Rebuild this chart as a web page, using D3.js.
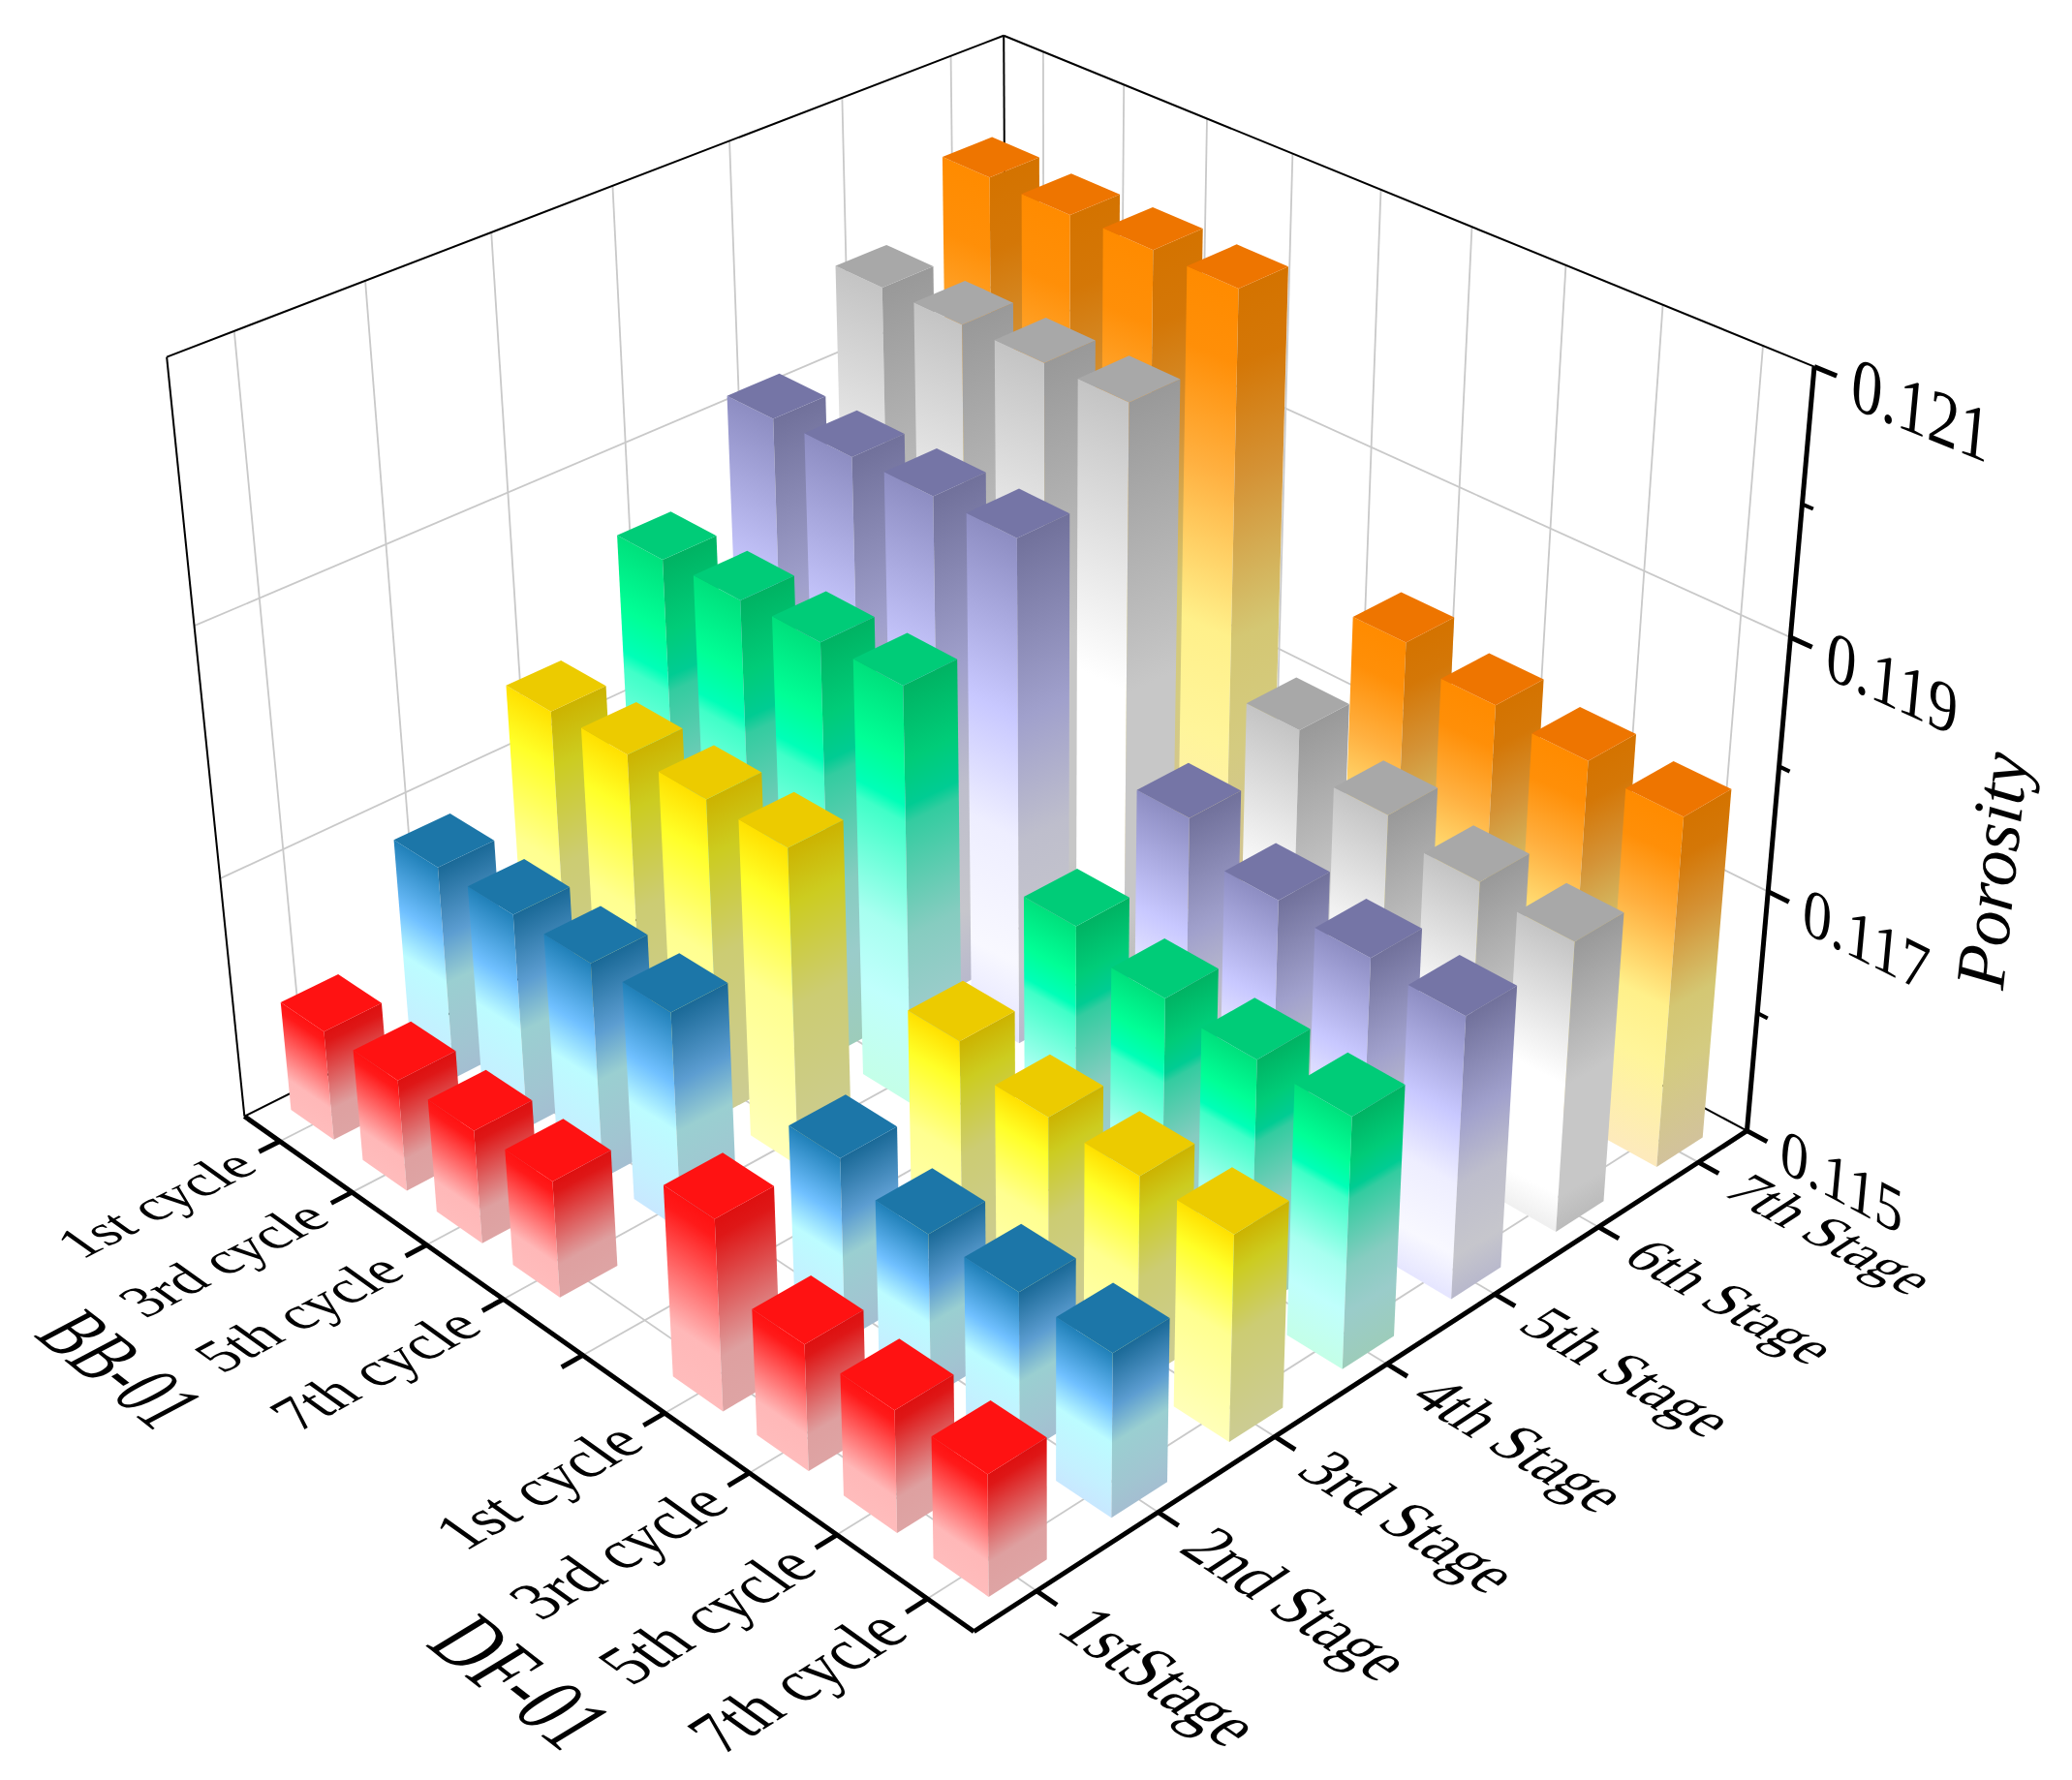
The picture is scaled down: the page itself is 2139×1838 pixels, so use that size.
<!DOCTYPE html>
<html><head><meta charset="utf-8">
<style>html,body{margin:0;padding:0;background:#fff}svg{display:block}text{font-family:"Liberation Serif","Times New Roman",serif;fill:#000}</style>
<script src="https://d3js.org/d3.v7.min.js"></script></head><body>
<div id="chart"></div>
<script>
const stageLabels=["1stStage","2nd Stage","3rd Stage","4th Stage","5th Stage","6th Stage","7th Stage"];
const cycleLabels=["1st cycle","3rd cycle","5th cycle","7th cycle","","1st cycle","3rd cycle","5th cycle","7th cycle"];
const zTicks=[0.115,0.116,0.117,0.118,0.119,0.120,0.121];
const zLabels=["0.115","","0.117","","0.119","","0.121"];
const stage1=[0.11592,0.11593,0.11594,0.11596,null,0.11655,0.11602,0.11598,0.11597];
const stage2=[0.11679,0.11679,0.11679,0.11680,null,0.11648,0.11632,0.11632,0.11631];
const stage3=[0.11761,0.11762,0.11763,0.11762,null,0.11688,0.11670,0.11667,0.11666];
const stage4=[0.11841,0.11842,0.11843,0.11844,null,0.11729,0.11712,0.11705,0.11703];
const stage5=[0.11914,0.11915,0.11916,0.11916,null,0.11767,0.11740,0.11734,0.11729];
const stage6=[0.11981,0.11981,0.11981,0.11981,null,0.11791,0.11760,0.11745,0.11737];
const stage7=[0.12033,0.12031,0.12032,0.12031,null,0.11817,0.11802,0.11794,0.11787];
const seriesValues=[stage1,stage2,stage3,stage4,stage5,stage6,stage7];
const capColors=["#ff1212","#1c76a8","#eccb00","#00cc78","#7575a6","#a8a8a8","#ee7500"];
const rightShade=[0.87,0.82,0.8,0.8,0.8,0.78,0.83];
const stopOffsets=[
 [0,0.1,0.35,0.72,1],
 [0,0.33,0.55,0.85,1],
 [0,0.18,0.5,1],
 [0,0.18,0.29,0.33,0.6,0.78,1],
 [0,0.36,0.6,0.85,1],
 [0,0.5,0.88,1],
 [0,0.12,0.3,0.55,0.72,1]];
const stopColors=[
 ["#ff1212","#ff1a1a","#ff5a5a","#ffb8b8","#ffbcbc"],
 ["#2080b8","#70c0ff","#bcfcff","#c4f0ff","#c8e8ff"],
 ["#ffe000","#ffff28","#ffff90","#ffffb8"],
 ["#00e07c","#00ff96","#00ffb8","#40ffc8","#a8fff0","#c0fffc","#c4ffe8"],
 ["#8d8dc2","#c8c8ff","#eeeeff","#f8f8ff","#e6e6ff"],
 ["#c4c4c4","#ffffff","#ffffff","#f0f0f0"],
 ["#ff8b00","#ff8f08","#ffb040","#fff08a","#fff59a","#fdeabc"]];

const W=2139,H=1838;
const k=2139/1568;
// projective camera: homogeneous columns for the three cube axes and the origin
const colX=[780.3,-252.6,0.14771],colY=[-523.1,-258.0,0.15625],colZ=[-80.8,-692,-0.10146],col0=[737,1235,1];
function project(X,Y,Z){const d=col0[2]+colX[2]*X+colY[2]*Y+colZ[2]*Z;
 return [k*(col0[0]+colX[0]*X+colY[0]*Y+colZ[0]*Z)/d,k*(col0[1]+colX[1]*X+colY[1]*Y+colZ[1]*Z)/d];}
const x=d3.scaleBand().domain(d3.range(7)).range([0,1]).paddingInner(0.531).paddingOuter(0.2655);
const y=d3.scaleBand().domain(d3.range(9)).range([1,0]).paddingInner(0.4).paddingOuter(0.2);
const z=d3.scaleLinear().domain([0.115,0.121]).range([0,1]);
const xc=i=>x(i)+x.bandwidth()/2, yc=i=>y(i)+y.bandwidth()/2;

const svg=d3.select("#chart").append("svg").attr("width",W).attr("height",H);
const defs=svg.append("defs");
const line=d3.line();
const seg=(g,A,B,col,w)=>g.append("path").attr("d",line([project(...A),project(...B)])).attr("stroke",col).attr("stroke-width",w).attr("fill","none");

const grid=svg.append("g");
const gridCol="#c9c9c9";
x.domain().forEach(i=>{seg(grid,[xc(i),0,0],[xc(i),1,0],gridCol,1.8);seg(grid,[xc(i),1,0],[xc(i),1,1],gridCol,1.8);});
y.domain().forEach(i=>{seg(grid,[0,yc(i),0],[1,yc(i),0],gridCol,1.8);seg(grid,[1,yc(i),0],[1,yc(i),1],gridCol,1.8);});
[0.117,0.119].forEach(v=>{const t=z(v);seg(grid,[0,1,t],[1,1,t],gridCol,1.8);seg(grid,[1,1,t],[1,0,t],gridCol,1.8);});
const frame=svg.append("g");
[[[0,1,0],[0,1,1]],[[0,1,1],[1,1,1]],[[1,1,1],[1,0,1]],[[1,1,1],[1,1,0]],[[0,1,0],[1,1,0]],[[1,0,0],[1,1,0]]].forEach(s=>seg(frame,s[0],s[1],"#000",2));

const barsG=svg.append("g");
let gid=0;
function shade(col,f){const r=d3.rgb(col);return d3.rgb(r.r*f,r.g*f,r.b*f).formatHex();}
function faceGrad(tl,tr,bl,s,f){
 const dx=tr[0]-tl[0],dy=tr[1]-tl[1],L=Math.hypot(dx,dy);
 const nx=-dy/L,ny=dx/L;const dd=(bl[0]-tl[0])*nx+(bl[1]-tl[1])*ny;
 const id="g"+(gid++);
 const g=defs.append("linearGradient").attr("id",id).attr("gradientUnits","userSpaceOnUse")
  .attr("x1",tl[0]).attr("y1",tl[1]).attr("x2",tl[0]+nx*dd).attr("y2",tl[1]+ny*dd);
 stopOffsets[s].forEach((o,j)=>g.append("stop").attr("offset",o).attr("stop-color",shade(stopColors[s][j],f)));
 return "url(#"+id+")";
}
for(let s=6;s>=0;s--){
 for(let i=0;i<9;i++){
  const v=seriesValues[s][i]; if(v==null)continue;
  const x0=x(s),x1=x0+x.bandwidth(),y0=y(i),y1=y0+y.bandwidth(),t=z(v);
  const g=barsG.append("g");
  const tl=project(x0,y1,t),tf=project(x0,y0,t),bf=project(x0,y0,0),bl=project(x0,y1,0);
  const tr=project(x1,y0,t),br=project(x1,y0,0),tb=project(x1,y1,t);
  g.append("path").attr("d",line([tl,tf,bf,bl])+"Z").attr("fill",faceGrad(tl,tf,bl,s,1));
  g.append("path").attr("d",line([tf,tr,br,bf])+"Z").attr("fill",faceGrad(tf,tr,bf,s,rightShade[s]));
  g.append("path").attr("d",line([tl,tb,tr,tf])+"Z").attr("fill",capColors[s]);
 }
}

const axes=svg.append("g");
seg(axes,[0,0,0],[1,0,0],"#000",5);
seg(axes,[0,0,0],[0,1,0],"#000",5);
seg(axes,[1,0,0],[1,0,1],"#000",5);
const tickLen=0.024;
x.domain().forEach(i=>seg(axes,[xc(i),0,0],[xc(i),-tickLen,0],"#000",5));
y.domain().forEach(i=>seg(axes,[0,yc(i),0],[-tickLen,yc(i),0],"#000",5));
zTicks.forEach((v,i)=>seg(axes,[1,0,z(v)],[1,i%2?-tickLen/2:-tickLen,z(v)],"#000",i%2?4:5));

function planeText(txt,p,runAxis,upAxis,emRun,emUp,anchor,dy){
 const e=1e-3;
 const P0=project(...p);
 const step=(ax,sgn)=>{const q=p.slice();q[ax]+=sgn*e;const Q=project(...q);return [(Q[0]-P0[0])/e,(Q[1]-P0[1])/e];};
 const R=step(runAxis[0],runAxis[1]),U=step(upAxis[0],upAxis[1]);
 const s=emRun/100,u=emUp/100;
 svg.append("text").attr("font-size",100).attr("text-anchor",anchor).attr("y",dy)
  .attr("transform",`matrix(${R[0]*s},${R[1]*s},${-U[0]*u},${-U[1]*u},${P0[0]},${P0[1]})`).text(txt);
}
stageLabels.forEach((t,i)=>planeText(t,[xc(i),-0.045,0],[1,-1],[0,1],0.059,0.071,"start",33));
cycleLabels.forEach((t,i)=>{if(t)planeText(t,[-0.04,yc(i),0],[0,1],[1,1],0.058,0.071,"end",33);});
zLabels.forEach((t,i)=>{if(t)planeText(t,[1,-0.04,z(zTicks[i])],[1,-1],[2,1],0.065,0.09,"start",33);});
planeText("BB-01",[-0.305,0.767,0],[1,-1],[0,1],0.07,0.085,"middle",33);
planeText("DF-01",[-0.305,0.21,0],[1,-1],[0,1],0.068,0.085,"middle",33);
const pt=project(1,-0.257,0.507);
svg.append("text").attr("font-size",73).attr("font-style","italic").attr("text-anchor","middle")
 .attr("transform",`matrix(0.105,-0.994,0.994,0.105,${pt[0]},${pt[1]})`).text("Porosity");
</script></body></html>
